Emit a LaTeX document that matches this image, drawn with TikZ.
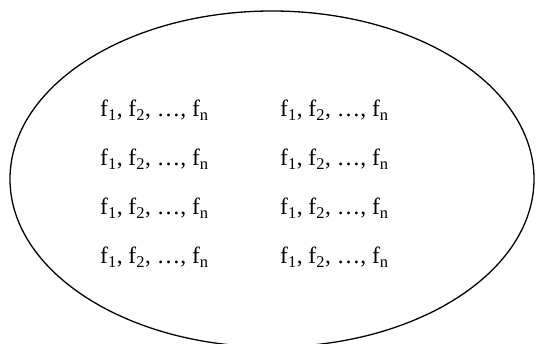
\documentclass[tikz,border=0pt]{standalone}
\usepackage{fontspec}
\setmainfont{Liberation Serif}
\usetikzlibrary{shapes.geometric, positioning}

\begin{document}
\begin{tikzpicture}[x=1pt, y=-1pt,
  set/.style={draw, ellipse, line width=1.3pt, minimum width=524pt,
    minimum height=336pt, inner sep=0pt},
  feat/.style={anchor=west, inner sep=0pt, font=\fontsize{23.5}{26}\selectfont}
]
\useasboundingbox (0,0) rectangle (537,343);
\node[set] (pool) at (272,179) {};
% two columns of feature lists
\foreach \r [count=\i] in {110,159,208,257} {
  \node[feat] (left\i) at (100,\r) {f\textsubscript{1}, f\textsubscript{2}, \dots, f\textsubscript{n}};
  \node[feat] (right\i) at (280,\r) {f\textsubscript{1}, f\textsubscript{2}, \dots, f\textsubscript{n}};
}
\end{tikzpicture}
\end{document}
